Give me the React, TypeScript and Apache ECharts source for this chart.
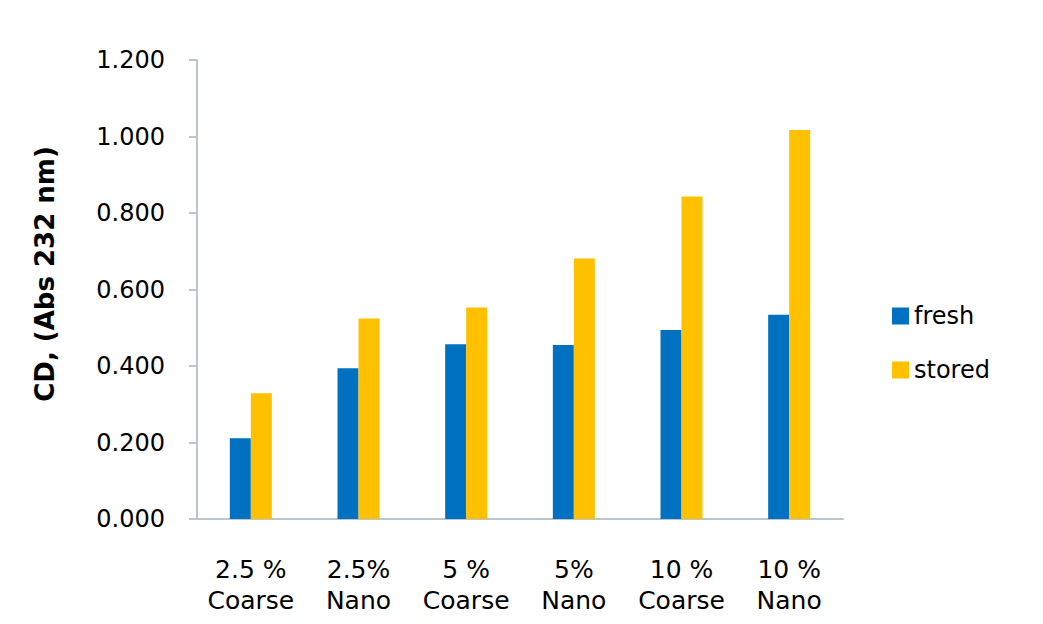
import React, { useEffect, useRef } from "react";
import * as echarts from "echarts";

const categories = ["2.5 %\nCoarse", "2.5%\nNano", "5 %\nCoarse", "5%\nNano", "10 %\nCoarse", "10 %\nNano"];
const freshValues = [0.211, 0.394, 0.457, 0.455, 0.494, 0.534];
const storedValues = [0.329, 0.524, 0.553, 0.681, 0.843, 1.017];
const yTicks = { min: 0, max: 1.2, interval: 0.2 };
const yTitle = "CD, (Abs 232 nm)";

const FONT = "DejaVu Sans";
const AXIS_COLOR = "#BCC4CC";

export default function App() {
  const ref = useRef<HTMLDivElement>(null);

  useEffect(() => {
    if (!ref.current) return;
    const chart = echarts.init(ref.current, undefined, { renderer: "svg" });
    chart.setOption({
      animation: false,
      backgroundColor: "#ffffff",
      grid: { left: 197, right: 200, top: 60, bottom: 105 },
      legend: {
        orient: "vertical",
        left: 887,
        top: 299,
        itemWidth: 17,
        itemHeight: 17,
        itemGap: 30,
        icon: "rect",
        textStyle: { fontFamily: FONT, fontSize: 24, color: "#000" },
        data: ["fresh", "stored"],
      },
      xAxis: {
        type: "category",
        data: categories,
        axisLine: { lineStyle: { color: AXIS_COLOR, width: 2 } },
        axisTick: { show: false },
        axisLabel: {
          interval: 0,
          margin: 35,
          fontFamily: FONT,
          fontSize: 25,
          lineHeight: 31,
          color: "#000",
          align: "center",
        },
      },
      yAxis: {
        type: "value",
        min: yTicks.min,
        max: yTicks.max,
        interval: yTicks.interval,
        splitLine: { show: false },
        axisLine: { show: true, lineStyle: { color: AXIS_COLOR, width: 2 } },
        axisTick: { show: true, length: 8, lineStyle: { color: AXIS_COLOR, width: 2 } },
        axisLabel: {
          margin: 32,
          fontFamily: FONT,
          fontSize: 24,
          color: "#000",
          formatter: (v: number) => v.toFixed(3),
        },
      },
      graphic: [
        {
          type: "text",
          x: 45,
          y: 274,
          rotation: Math.PI / 2,
          style: {
            text: yTitle,
            fontFamily: FONT,
            fontSize: 26,
            fontWeight: "bold",
            fill: "#000",
            textAlign: "center",
            textVerticalAlign: "middle",
          },
        },
      ],
      series: [
        {
          name: "fresh",
          type: "bar",
          data: freshValues,
          barWidth: 21,
          barGap: "0%",
          itemStyle: { color: "#0070C0" },
        },
        {
          name: "stored",
          type: "bar",
          data: storedValues,
          barWidth: 21,
          barGap: "0%",
          itemStyle: { color: "#FFC000" },
        },
      ],
    });
    return () => chart.dispose();
  }, []);

  return (
    <div
      ref={ref}
      style={{ position: "fixed", left: 0, top: 0, width: 1043, height: 624 }}
    />
  );
}
